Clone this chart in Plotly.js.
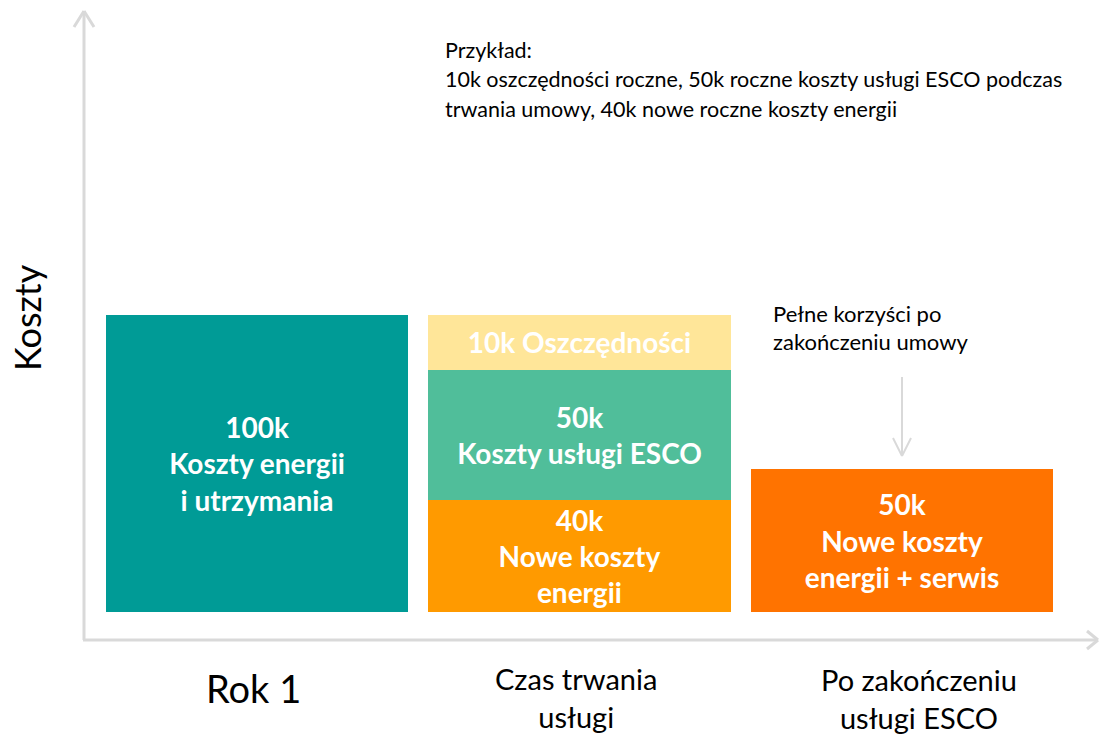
<!DOCTYPE html>
<html>
<head>
<meta charset="utf-8">
<script src="https://cdn.plot.ly/plotly-3.0.1.min.js"></script>
<style>html,body{margin:0;padding:0;background:#fff;}#chart{width:1099px;height:735px;}</style>
</head>
<body>
<div id="chart"></div>
<script>
// ---- data ----
const categories = ['Rok 1', 'Czas trwania usługi', 'Po zakończeniu usługi ESCO'];
const categoryLabels = ['Rok 1', 'Czas trwania<br>usługi', 'Po zakończeniu<br>usługi ESCO'];

// visual bar heights (same units as the 100k bar)
const year1Costs = [100];
const newEnergyDuring = [37.7];
const escoService = [43.8];
const savings = [18.5];
const afterContract = [48.1];

const year1Label = ['100k<br>Koszty energii<br>i utrzymania'];
const newEnergyLabel = ['40k<br>Nowe koszty<br>energii'];
const escoLabel = ['50k<br>Koszty usługi ESCO'];
const savingsLabel = ['10k Oszczędności'];
const afterLabel = ['50k<br>Nowe koszty<br>energii + serwis'];

const noteLines = ['Przykład:',
  '10k oszczędności roczne, 50k roczne koszty usługi ESCO podczas',
  'trwania umowy, 40k nowe roczne koszty energii'];
const benefitLines = ['Pełne korzyści po', 'zakończeniu umowy'];
const yTitle = 'Koszty';

// ---- layout helpers ----
const W = 1099, H = 735;
const X = p => p / W;
const Y = p => 1 - p / H;
const FONT = 'Lato, "Open Sans", sans-serif';
const barFont = {family: FONT, size: 28, color: '#ffffff', weight: 'bold'};
const BW = 0.937;

function barTrace(x, y, text, color) {
  return {
    type: 'bar', x: x, y: y, text: text, width: BW,
    marker: {color: color, line: {width: 0}},
    textposition: 'inside', insidetextanchor: 'middle', textangle: 0,
    insidetextfont: barFont, textfont: barFont, constraintext: 'none',
    hoverinfo: 'skip', showlegend: false, cliponaxis: false
  };
}

const traces = [
  barTrace([categories[0]], year1Costs, year1Label, '#009B96'),
  barTrace([categories[1]], newEnergyDuring, newEnergyLabel, '#FF9A00'),
  barTrace([categories[1]], escoService, escoLabel, '#50BE9A'),
  barTrace([categories[1]], savings, savingsLabel, '#FFE699'),
  barTrace([categories[2]], afterContract, afterLabel, '#FF7300')
];

const gray = '#D9D9D9';
function seg(x0, y0, x1, y1, w) {
  return {type: 'line', xref: 'paper', yref: 'paper', x0: X(x0), y0: Y(y0), x1: X(x1), y1: Y(y1),
    line: {color: gray, width: w}};
}
const shapes = [
  seg(84, 640, 84, 11, 3), seg(84, 11, 74, 27, 3), seg(84, 11, 94, 27, 3),
  seg(83, 640, 1098, 640, 3), seg(1098, 640, 1087, 631, 3), seg(1098, 640, 1087, 649, 3),
  seg(902, 377, 902, 455, 2), seg(902, 456, 893, 438, 2), seg(902, 456, 911, 438, 2)
];

const annotations = [];
const txt = (t, x, y, size, anchor) => ({text: t, xref: 'paper', yref: 'paper', x: X(x), y: Y(y),
  xanchor: anchor || 'left', yanchor: 'middle', showarrow: false,
  font: {family: FONT, size: size, color: '#000000'}});
noteLines.forEach((t, i) => annotations.push(txt(t, 443, 50 + i * 29.5, 21.5)));
benefitLines.forEach((t, i) => annotations.push(txt(t, 771, 313 + i * 28.5, 22)));
annotations.push(Object.assign(txt(yTitle, 27, 318, 36, 'center'), {textangle: -90}));
// category labels through the x scale
const labelY = [688, 697, 698];
const labelSize = [38, 29, 29];
categories.forEach((c, i) => annotations.push({
  text: categoryLabels[i], xref: 'x', yref: 'paper', x: c, y: Y(labelY[i]),
  xanchor: 'center', yanchor: 'middle', showarrow: false,
  font: {family: FONT, size: labelSize[i], color: '#000000'}
}));
// shift label centres to match reference
annotations[annotations.length - 3].xshift = -4;
annotations[annotations.length - 2].xshift = -3;
annotations[annotations.length - 1].xshift = 17;

const layout = {
  width: W, height: H,
  margin: {l: 0, r: 0, t: 0, b: 0, pad: 0},
  paper_bgcolor: '#ffffff', plot_bgcolor: '#ffffff',
  barmode: 'stack', bargap: 0,
  showlegend: false,
  xaxis: {type: 'category', categoryorder: 'array', categoryarray: categories,
    range: [-0.797, 2.611], showgrid: false, zeroline: false, showticklabels: false,
    showline: false, ticks: '', fixedrange: true},
  yaxis: {range: [-41.41, 206.06], showgrid: false, zeroline: false, showticklabels: false,
    showline: false, ticks: '', fixedrange: true},
  shapes: shapes,
  annotations: annotations,
  font: {family: FONT}
};

Plotly.newPlot('chart', traces, layout, {displayModeBar: false, staticPlot: true});
</script>
</body>
</html>
